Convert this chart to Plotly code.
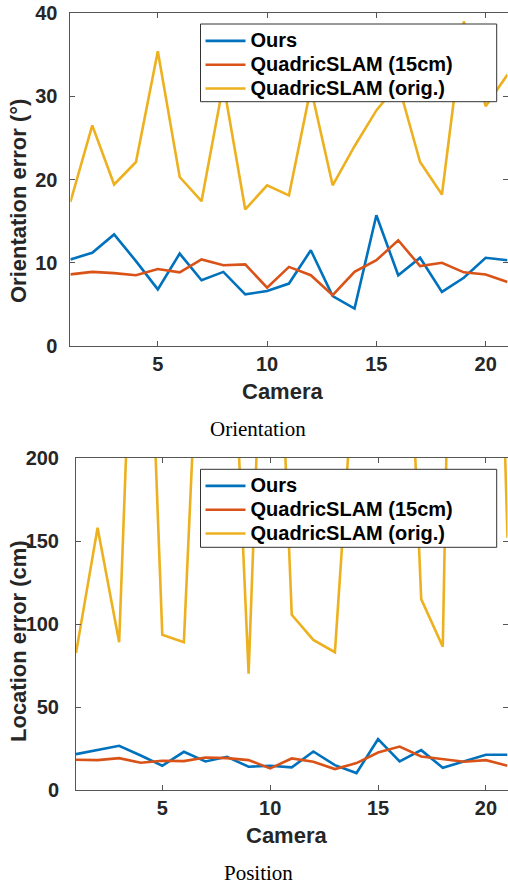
import plotly.graph_objects as go

W, H = 508, 886

cameras = list(range(1, 22))

# Orientation error (degrees)
ori_ours = [10.4, 11.2, 13.4, 10.2, 6.8, 11.1, 7.9, 8.9, 6.2, 6.6, 7.5,
            11.5, 6.0, 4.5, 15.7, 8.5, 10.6, 6.5, 8.2, 10.6, 10.3]
ori_q15 = [8.6, 8.9, 8.75, 8.5, 9.25, 8.85, 10.4, 9.7, 9.8, 7.0, 9.5,
           8.5, 6.1, 8.9, 10.3, 12.7, 9.6, 10.0, 8.85, 8.6, 7.7]
ori_qorig = [17.3, 26.5, 19.4, 22.1, 35.4, 20.3, 17.4, 31.5, 16.4, 19.3, 18.1,
             31.0, 19.3, 24.0, 28.3, 31.5, 22.1, 18.2, 39.0, 28.8, 32.6]

# Location error (cm)
pos_ours = [21.6, 24.0, 26.6, 20.8, 14.6, 23.0, 17.2, 20.0, 14.0, 14.6, 13.6,
            23.2, 15.0, 10.2, 30.6, 17.2, 24.0, 13.4, 17.4, 21.2, 21.2]
pos_q15 = [18.2, 18.0, 19.2, 16.4, 17.6, 17.4, 19.6, 19.2, 18.0, 13.0, 19.0,
           17.0, 12.6, 16.2, 22.6, 26.2, 20.2, 18.6, 17.0, 18.0, 14.6]
pos_qorig = [82.5, 158.0, 89.0, 440.0, 93.5, 89.0, 378.0, 366.0, 70.0, 428.0, 105.5,
             90.4, 83.0, 276.0, 350.0, 426.0, 115.0, 86.3, 780.0, 600.0, 152.0]

names = ["Ours", "QuadricSLAM (15cm)", "QuadricSLAM (orig.)"]
colors = ["#0072BD", "#D95319", "#EDB120"]

ori_yticks = [0, 10, 20, 30, 40]
pos_yticks = [0, 50, 100, 150, 200]
xticks = [5, 10, 15, 20]

def px_x(p):
    return p / W

def px_y(p):
    return 1 - p / H

def leg_name(n):
    return '<span style="font-size:20px">' + n + '</span>'

fig = go.Figure()

for vals, name, col in zip([ori_ours, ori_q15, ori_qorig], names, colors):
    fig.add_trace(go.Scatter(x=cameras, y=vals, mode="lines", name=leg_name(name),
                             line=dict(color=col, width=2.6),
                             xaxis="x", yaxis="y", legend="legend"))
for vals, name, col in zip([pos_ours, pos_q15, pos_qorig], names, colors):
    fig.add_trace(go.Scatter(x=cameras, y=vals, mode="lines", name=leg_name(name),
                             line=dict(color=col, width=2.6),
                             xaxis="x2", yaxis="y2", legend="legend2"))

sans = "Liberation Sans, Arial, sans-serif"
tickfont = dict(family=sans, size=20, color="#262626", weight="bold")
axis_common = dict(showline=True, linecolor="#555555", linewidth=1,
                   mirror="ticks", ticks="inside", ticklen=5, tickcolor="#555555",
                   showgrid=False, zeroline=False, tickfont=tickfont,
                   automargin=False)

legfont = dict(family=sans, size=16, color="black", weight="bold")

fig.update_layout(
    width=W, height=H,
    margin=dict(l=0, r=0, t=0, b=0),
    paper_bgcolor="white", plot_bgcolor="white",
    xaxis=dict(domain=[px_x(70.4), px_x(507.5)], range=[1, 21], tickvals=xticks,
               anchor="y", **axis_common),
    yaxis=dict(domain=[px_y(346), px_y(13)], range=[0, 40], tickvals=ori_yticks,
               anchor="x", ticklabelstandoff=8, **axis_common),
    xaxis2=dict(domain=[px_x(76), px_x(507.5)], range=[1, 21], tickvals=xticks,
                anchor="y2", **axis_common),
    yaxis2=dict(domain=[px_y(790), px_y(458)], range=[0, 200], tickvals=pos_yticks,
                anchor="x2", ticklabelstandoff=12, **axis_common),
    legend=dict(x=px_x(200.5), y=px_y(24), xanchor="left", yanchor="top",
                bgcolor="rgba(0,0,0,0)", borderwidth=0,
                font=legfont, tracegroupgap=0, itemwidth=40),
    legend2=dict(x=px_x(200.5), y=px_y(469), xanchor="left", yanchor="top",
                 bgcolor="rgba(0,0,0,0)", borderwidth=0,
                 font=legfont, tracegroupgap=0, itemwidth=40),
    showlegend=True,
)

# legend frames (white boxes that hide the lines beneath, like the original)
for (x0, y0, x1, y1) in [(200.5, 24, 496.7, 101.7), (200.5, 469.3, 496.7, 547.3)]:
    fig.add_shape(type="rect", xref="paper", yref="paper",
                  x0=px_x(x0), x1=px_x(x1), y0=px_y(y1), y1=px_y(y0),
                  fillcolor="white", line=dict(color="#333333", width=1),
                  layer="above")

title_font = dict(family=sans, size=22, color="#262626", weight="bold")
serif = dict(family="Liberation Serif, Times New Roman, serif", size=21, color="black")
annos = [
    dict(text="Camera", x=px_x(282), y=px_y(391), font=title_font),
    dict(text="Orientation error (°)", x=px_x(18), y=px_y(201), font=title_font, textangle=-90),
    dict(text="Camera", x=px_x(286), y=px_y(835), font=title_font),
    dict(text="Location error (cm)", x=px_x(18), y=px_y(641), font=title_font, textangle=-90),
    dict(text="Orientation", x=px_x(258), y=px_y(429), font=serif),
    dict(text="Position", x=px_x(258), y=px_y(873), font=serif),
]
for a in annos:
    fig.add_annotation(xref="paper", yref="paper", showarrow=False,
                       xanchor="center", yanchor="middle", **a)

fig.write_html("out.html",
               config={"displayModeBar": False},
               post_script="document.body.style.margin='0';"
                           "document.body.style.overflow='hidden';")
